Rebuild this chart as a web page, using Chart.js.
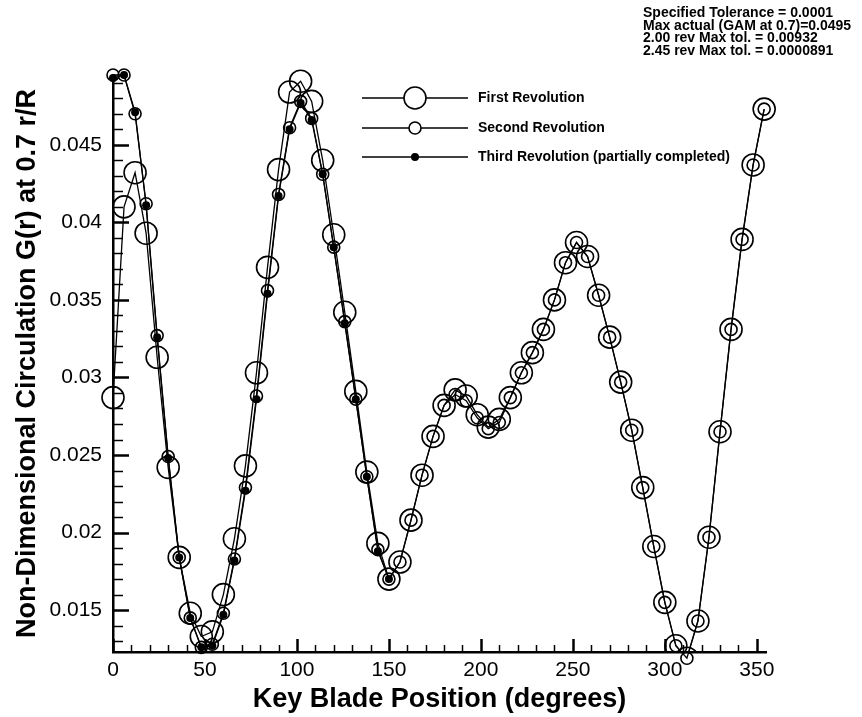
<!DOCTYPE html>
<html>
<head>
<meta charset="utf-8">
<script src="https://cdn.jsdelivr.net/npm/chart.js@4.4.1/dist/chart.umd.min.js"></script>
<style>
  html, body { margin: 0; padding: 0; background: #fff; }
  #wrap { position: relative; width: 862px; height: 717px; }
  #c { position: absolute; left: 0; top: 0; }
  #note { position: absolute; left: 643px; top: 6px; font-family: "Liberation Sans", Arial, sans-serif;
          font-weight: bold; font-size: 14px; line-height: 12.6px; color: #000; white-space: pre; }
</style>
</head>
<body>
<div id="wrap">
  <canvas id="c" width="862" height="717"></canvas>
  <div id="note">Specified Tolerance = 0.0001
Max actual (GAM at 0.7)=0.0495
2.00 rev Max tol. = 0.00932
2.45 rev Max tol. = 0.0000891</div>
</div>
<script>
// ---- data ----
const degrees = [0,6,12,18,24,30,36,42,48,54,60,66,72,78,84,90,96,102,108,114,120,126,132,138,144,150,
  156,162,168,174,180,186,192,198,204,210,216,222,228,234,240,246,252,258,264,270,276,282,288,294,300,
  306,312,318,324,330,336,342,348,354];

const firstRev = [0.0287,0.0410,0.0432,0.0393,0.0313,0.0242,0.0184,0.0148,0.0133,0.0136,0.0160,0.0196,
  0.0243,0.0303,0.0371,0.0434,0.0484,0.0491,0.0478,0.0440,0.0392,0.0342,0.0291,0.0239,0.0193,0.0170,
  0.0181,0.0208,0.0237,0.0262,0.0282,0.0292,0.0288,0.0276,0.0268,0.0273,0.0287,0.0303,0.0316,0.0331,
  0.0350,0.0374,0.0387,0.0378,0.0353,0.0326,0.0297,0.0266,0.0229,0.0191,0.0155,0.0127,0.0119,0.0143,
  0.0197,0.0265,0.0331,0.0389,0.0437,0.0473];

const secondRev = [0.0495,0.0495,0.0470,0.0412,0.0327,0.0249,0.0184,0.0145,0.0126,0.0128,0.0148,0.0183,
  0.0229,0.0288,0.0356,0.0418,0.0461,0.0478,0.0467,0.0431,0.0384,0.0336,0.0286,0.0236,0.0189,0.0170,
  0.0181,0.0208,0.0237,0.0262,0.0282,0.0289,0.0285,0.0274,0.0267,0.0271,0.0287,0.0303,0.0316,0.0331,
  0.0350,0.0374,0.0387,0.0378,0.0353,0.0326,0.0297,0.0266,0.0229,0.0191,0.0155,0.0127,0.0119,0.0143,
  0.0197,0.0265,0.0331,0.0389,0.0437,0.0473];

const thirdRev = [0.0493,0.0495,0.0471,0.0411,0.0326,0.0248,0.0184,0.0145,0.0126,0.0127,0.0147,0.0182,
  0.0227,0.0286,0.0354,0.0417,0.0460,0.0477,0.0466,0.0431,0.0384,0.0335,0.0286,0.0236,0.0188,0.0170];

const seriesNames = ["First Revolution", "Second Revolution", "Third Revolution (partially completed)"];
const xTickStep = 50, xMinorStep = 10;
const yTickStep = 0.005, yMinorStep = 0.001;

function pts(vals) { return vals.map((v, i) => ({ x: degrees[i], y: v })); }

const FONT = '"Liberation Sans", Arial, Helvetica, sans-serif';

// inward tick marks drawn through the scales
const innerTicks = {
  id: 'innerTicks',
  afterDraw(chart) {
    const ctx = chart.ctx, xs = chart.scales.x, ys = chart.scales.y, a = chart.chartArea;
    ctx.save();
    ctx.strokeStyle = '#000';
    for (let v = xs.min; v <= xs.max + 1e-9; v += xMinorStep) {
      const major = Math.abs(v / xTickStep - Math.round(v / xTickStep)) < 1e-6;
      const px = Math.round(xs.getPixelForValue(v)) + 0.5;
      ctx.lineWidth = major ? 2.5 : 1.5;
      ctx.beginPath(); ctx.moveTo(px, a.bottom); ctx.lineTo(px, a.bottom - (major ? 13 : 7)); ctx.stroke();
    }
    const start = Math.ceil(ys.min / yMinorStep - 1e-6) * yMinorStep;
    for (let k = 0; start + k * yMinorStep <= ys.max + 1e-9; k++) {
      const v = start + k * yMinorStep;
      const major = Math.abs(v / yTickStep - Math.round(v / yTickStep)) < 1e-6;
      const py = Math.round(ys.getPixelForValue(v)) + 0.5;
      ctx.lineWidth = major ? 2.5 : 1.5;
      ctx.beginPath(); ctx.moveTo(a.left, py); ctx.lineTo(a.left + (major ? 16 : 10), py); ctx.stroke();
    }
    ctx.restore();
  }
};

// legend drawn inside the plot like the reference
const innerLegend = {
  id: 'innerLegend',
  afterDraw(chart) {
    const ctx = chart.ctx;
    const rows = [98, 128, 157];
    ctx.save();
    chart.data.datasets.forEach((ds, i) => {
      const y = rows[i];
      ctx.strokeStyle = '#000';
      ctx.lineWidth = ds.borderWidth;
      ctx.beginPath(); ctx.moveTo(362, y); ctx.lineTo(468, y); ctx.stroke();
      ctx.beginPath();
      ctx.arc(415, y, ds.pointRadius, 0, Math.PI * 2);
      if (ds.pointBackgroundColor === '#000') { ctx.fillStyle = '#000'; ctx.fill(); }
      else { ctx.fillStyle = '#fff'; ctx.fill(); ctx.lineWidth = ds.pointBorderWidth; ctx.stroke(); }
      ctx.fillStyle = '#000';
      ctx.font = 'bold 14px ' + FONT;
      ctx.textBaseline = 'middle';
      ctx.fillText(ds.label, 478, y);
    });
    ctx.restore();
  }
};

new Chart(document.getElementById('c'), {
  type: 'line',
  data: {
    datasets: [
      { label: seriesNames[0], data: pts(firstRev), borderColor: '#000', borderWidth: 1.3,
        pointRadius: 11, pointBorderWidth: 1.6, pointBorderColor: '#000', pointBackgroundColor: 'rgba(0,0,0,0)',
        tension: 0, order: 3, clip: { left: false, top: false, right: false, bottom: 0 } },
      { label: seriesNames[1], data: pts(secondRev), borderColor: '#000', borderWidth: 1.3,
        pointRadius: 6, pointBorderWidth: 1.6, pointBorderColor: '#000', pointBackgroundColor: 'rgba(0,0,0,0)',
        tension: 0, order: 2, clip: false },
      { label: seriesNames[2], data: pts(thirdRev), borderColor: '#000', borderWidth: 1.3,
        pointRadius: 4, pointBorderWidth: 0, pointBorderColor: '#000', pointBackgroundColor: '#000',
        tension: 0, order: 1, clip: false }
    ]
  },
  options: {
    responsive: false,
    animation: false,
    devicePixelRatio: 1,
    layout: { padding: { left: 0, top: 75, right: 96, bottom: 0 } },
    plugins: { legend: { display: false }, tooltip: { enabled: false } },
    scales: {
      x: {
        type: 'linear', min: 0, max: 355,
        grid: { display: false, drawTicks: false },
        border: { display: true, color: '#000', width: 2.5 },
        ticks: { stepSize: xTickStep, includeBounds: false, padding: 6, color: '#000',
                 font: { family: FONT, size: 21 } },
        title: { display: true, text: 'Key Blade Position (degrees)', color: '#000',
                 font: { family: FONT, size: 27, weight: 'bold' }, padding: { top: 0, bottom: 1 } },
        afterFit(s) { s.height = 65; }
      },
      y: {
        type: 'linear', min: 0.0123, max: 0.0495,
        grid: { display: false, drawTicks: false },
        border: { display: true, color: '#000', width: 2.5 },
        ticks: { stepSize: yTickStep, includeBounds: false, padding: 11, color: '#000',
                 font: { family: FONT, size: 21 },
                 callback: v => String(Number(v.toFixed(4))) },
        title: { display: true, text: 'Non-Dimensional Circulation G(r) at 0.7 r/R', color: '#000',
                 font: { family: FONT, size: 27, weight: 'bold' }, padding: { top: 11, bottom: 0 } },
        afterFit(s) { s.width = 113; }
      }
    }
  },
  plugins: [innerTicks, innerLegend]
});
</script>
</body>
</html>
